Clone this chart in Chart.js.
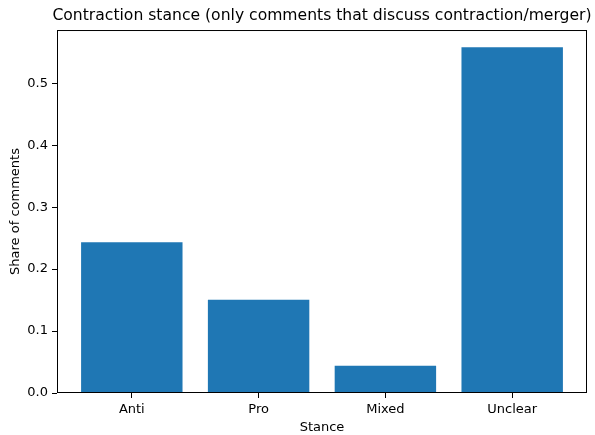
<!DOCTYPE html>
<html>
<head>
<meta charset="utf-8">
<script src="https://cdn.jsdelivr.net/npm/chart.js@4"></script>
<style>
  body { margin: 0; background: #fff; }
</style>
</head>
<body>
<canvas id="chart" width="595" height="435"></canvas>
<script>
const stances = ["Anti", "Pro", "Mixed", "Unclear"];
const shares = [0.2435, 0.1505, 0.044, 0.558];
const yTicks = [0, 0.1, 0.2, 0.3, 0.4, 0.5];

// matplotlib-like frame around the plot
const frame = {
  id: 'frame',
  afterLayout(chart) {
    // title is wider than the plot: give it room so it is not squeezed
    const t = chart.titleBlock;
    if (t) {
      const mid = (chart.chartArea.left + chart.chartArea.right) / 2;
      t.left = mid - 285;
      t.right = mid + 285;
      t.width = 570;
    }
  },
  afterDraw(chart) {
    const a = chart.chartArea, c = chart.ctx;
    c.save();
    c.strokeStyle = '#000';
    c.lineWidth = 1;
    c.strokeRect(a.left + 0.5, a.top + 0.5, a.right - a.left - 1, a.bottom - a.top - 1);
    c.restore();
  }
};

const font = { family: 'DejaVu Sans', size: 13 };

let ctx = document.getElementById('chart').getContext('2d');
let myChart = new Chart(ctx, {
  type: 'bar',
  data: {
    datasets: [{
      label: 'Share',
      data: shares.map((v, i) => ({ x: i, y: v })),
      backgroundColor: '#1f77b4',
      barPercentage: 0.8,
      categoryPercentage: 1
    }]
  },
  options: {
    responsive: false,
    animation: false,
    devicePixelRatio: 1,
    layout: { padding: { left: 0, right: 8, top: 0, bottom: 0 } },
    plugins: {
      legend: { display: false },
      tooltip: { enabled: false },
      title: {
        display: true,
        text: 'Contraction stance (only comments that discuss contraction/merger)',
        color: '#000',
        font: { family: 'DejaVu Sans', size: 15.6, weight: 'normal', lineHeight: 1.2 },
        padding: { top: 7, bottom: 4.3 },
        fullSize: false
      }
    },
    scales: {
      x: {
        type: 'linear',
        min: -0.59,
        max: 3.59,
        offset: false,
        afterBuildTicks: s => { s.ticks = stances.map((_, i) => ({ value: i })); },
        afterFit: s => { s.height = 42; },
        ticks: {
          color: '#000', font: font, padding: 4,
          callback: v => stances[v]
        },
        grid: { offset: false, drawOnChartArea: false, drawTicks: true, tickLength: 5, color: '#000' },
        border: { display: false },
        title: { display: true, text: 'Stance', color: '#000', font: font, padding: { top: 0, bottom: 0 } }
      },
      y: {
        min: 0,
        max: 0.586,
        afterBuildTicks: s => { s.ticks = yTicks.map(v => ({ value: v })); },
        afterFit: s => { s.width = 57; },
        ticks: {
          color: '#000', font: font, padding: 4,
          callback: v => v.toFixed(1)
        },
        grid: { drawOnChartArea: false, drawTicks: true, tickLength: 5, color: '#000' },
        border: { display: false },
        title: { display: true, text: 'Share of comments', color: '#000', font: font, padding: { top: 8, bottom: 0 } }
      }
    }
  },
  plugins: [frame]
});
</script>
</body>
</html>
